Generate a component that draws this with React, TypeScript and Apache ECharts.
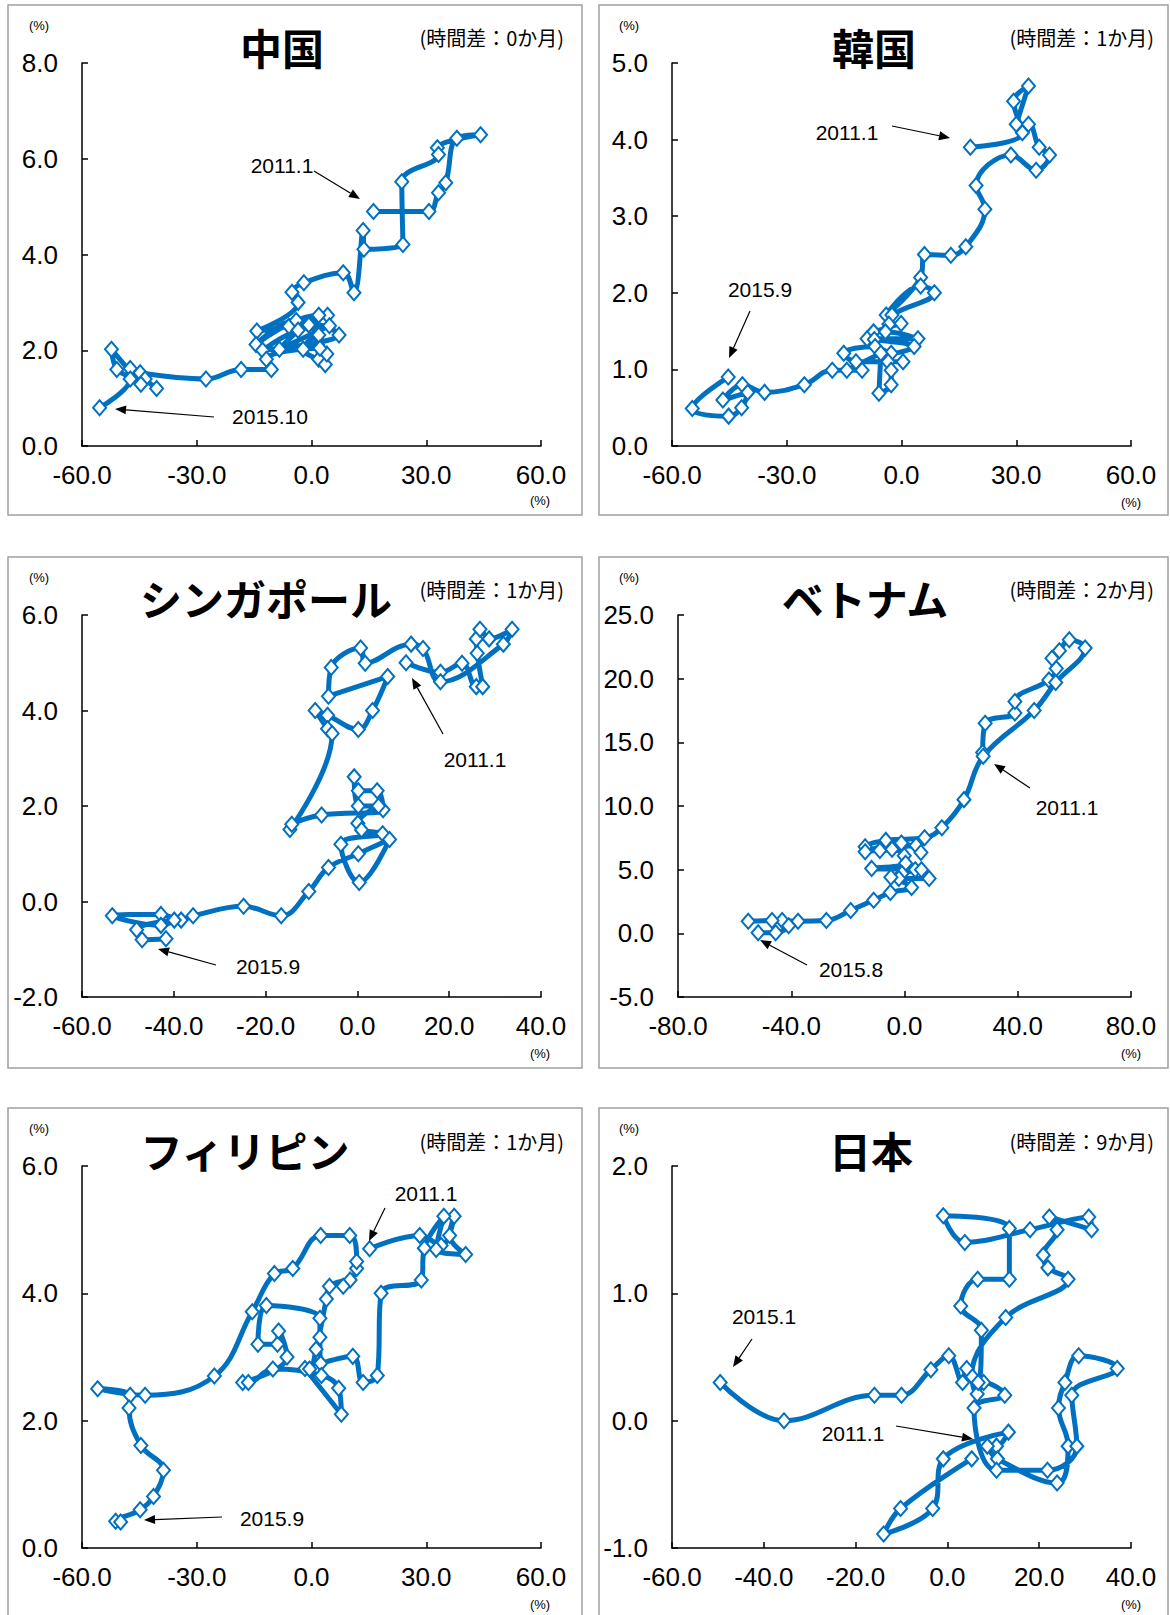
import React, { useEffect, useRef } from "react";
import * as echarts from "echarts";

// ---- data (x, y) in time order, from 2011.1 to the latest month ----
const chinaPath = [[16.2,4.9],[30.7,4.9],[33.2,5.29],[35.1,5.5],[38.0,6.43],[44.2,6.5],[32.9,6.23],[33.2,6.09],[23.6,5.52],[23.9,4.21],[13.7,4.11],[13.5,4.5],[11.1,3.2],[8.3,3.62],[-2.0,3.41],[-5.1,3.21],[-3.5,3.0],[-14.3,2.4],[-5.9,2.5],[4.2,2.73],[1.9,2.73],[-14.5,2.12],[-4.0,2.62],[7.2,2.32],[-12.8,2.0],[-3.5,2.42],[4.7,2.51],[-8.4,2.02],[-0.7,2.53],[1.9,1.81],[-2.2,2.02],[1.9,2.32],[3.6,1.7],[4.0,1.92],[2.2,2.04],[-11.8,1.81],[-10.5,1.6],[-18.4,1.6],[-27.6,1.4],[-44.8,1.53],[-43.5,1.4],[-40.5,1.2],[-47.4,1.62],[-44.6,1.29],[-52.3,2.02],[-50.9,1.6],[-47.4,1.4],[-55.4,0.8]];
const koreaPath = [[18.0,3.9],[31.6,4.09],[29.3,4.5],[33.2,4.7],[30.0,4.2],[33.2,4.2],[36.0,3.9],[38.7,3.8],[35.2,3.6],[28.6,3.8],[19.5,3.4],[21.8,3.09],[16.8,2.6],[12.9,2.49],[6.0,2.5],[5.0,2.2],[-4.0,1.71],[5.0,2.09],[8.6,2.0],[-2.5,1.71],[-3.3,1.59],[-0.1,1.6],[-7.3,1.49],[-4.2,1.49],[4.3,1.4],[-9.0,1.4],[-7.1,1.39],[3.3,1.3],[-2.7,1.21],[-6.9,1.3],[-15.1,1.21],[-11.9,1.1],[0.4,1.1],[-3.5,1.1],[-2.7,0.99],[-2.7,0.8],[-5.9,0.69],[-5.4,1.21],[-14.3,0.99],[-10.3,0.99],[-18.1,0.99],[-25.4,0.8],[-35.8,0.7],[-41.6,0.8],[-46.7,0.6],[-40.2,0.7],[-41.8,0.5],[-45.2,0.39],[-54.7,0.49],[-45.3,0.9]];
const singaporePath = [[10.6,5.0],[18.1,4.8],[22.8,4.99],[25.9,4.5],[27.3,4.5],[26.1,5.2],[25.9,5.5],[26.7,5.7],[28.7,5.5],[33.7,5.7],[31.8,5.39],[18.1,4.6],[14.3,5.3],[11.7,5.39],[1.7,4.99],[0.7,5.31],[-5.7,4.9],[-6.3,4.3],[6.6,4.71],[3.3,4.0],[0.2,3.6],[-6.5,3.9],[-9.2,4.0],[-6.5,3.62],[-5.5,3.52],[-14.7,1.51],[-14.3,1.62],[-7.8,1.81],[5.6,1.92],[4.3,2.32],[0.2,2.32],[-0.7,2.61],[0.2,2.0],[4.6,2.0],[0.1,1.64],[0.9,1.5],[5.5,1.42],[-3.6,1.2],[0.4,0.4],[7.0,1.3],[0.2,1.0],[-6.3,0.71],[-10.6,0.21],[-16.6,-0.3],[-24.8,-0.1],[-35.8,-0.3],[-38.4,-0.39],[-42.8,-0.27],[-53.4,-0.3],[-42.8,-0.5],[-39.9,-0.39],[-48.1,-0.59],[-46.9,-0.8],[-41.7,-0.78]];
const vietnamPath = [[27.6,14.2],[28.5,16.5],[39.0,17.3],[39.0,18.2],[51.0,19.9],[53.6,20.8],[52.1,21.6],[54.7,22.2],[58.2,23.05],[63.8,22.4],[53.4,19.7],[45.8,17.5],[27.8,13.9],[21.0,10.5],[13.2,8.3],[7.1,7.5],[-6.6,7.3],[-13.9,6.8],[-8.7,6.5],[4.1,6.9],[5.8,6.35],[-1.1,7.1],[-13.9,6.4],[-4.4,6.6],[-0.1,6.1],[0.4,5.5],[-11.6,5.1],[3.8,5.0],[-0.9,4.7],[6.0,5.0],[8.7,4.3],[-2.0,4.3],[-4.8,4.4],[2.5,3.6],[-5.0,3.2],[-10.9,2.6],[-19.0,1.8],[-27.6,1.0],[-37.6,0.95],[-43.2,1.0],[-55.2,0.95],[-46.8,1.0],[-40.9,0.6],[-45.5,0.05],[-51.7,0.05]];
const philippinesPath = [[15.2,4.7],[28.3,4.91],[33.9,4.75],[37.3,5.21],[36.1,4.91],[40.3,4.61],[32.6,4.69],[34.6,5.21],[29.5,4.71],[28.7,4.21],[18.2,4.0],[17.2,2.71],[13.5,2.6],[10.8,3.01],[2.4,2.9],[2.2,3.31],[2.2,3.61],[-11.8,3.81],[-14.0,3.2],[-8.9,3.2],[-8.6,3.41],[-6.4,3.0],[-18.0,2.6],[-16.5,2.6],[-10.1,2.81],[2.6,2.71],[7.1,2.51],[7.8,2.1],[-1.7,2.82],[-0.5,2.81],[1.2,3.12],[3.9,3.91],[4.7,4.11],[10.1,4.21],[8.3,4.11],[11.8,4.39],[11.8,4.5],[10.0,4.91],[2.4,4.91],[-4.9,4.39],[-9.7,4.31],[-15.5,3.71],[-25.4,2.7],[-43.5,2.4],[-55.9,2.5],[-47.4,2.4],[-47.7,2.2],[-44.6,1.61],[-38.7,1.22],[-41.3,0.81],[-44.8,0.6],[-51.2,0.42],[-49.9,0.41]];
const japanPath = [[5.3,-0.30],[-10.2,-0.69],[-13.9,-0.89],[-3.2,-0.69],[-0.9,-0.30],[13.3,-0.09],[10.7,-0.20],[8.7,-0.20],[10.9,-0.30],[23.9,-0.49],[26.3,-0.20],[24.2,0.10],[25.6,0.30],[28.6,0.51],[37.0,0.41],[27.1,0.20],[28.2,-0.20],[21.8,-0.39],[10.7,-0.39],[5.8,0.10],[12.5,0.20],[7.9,0.30],[6.5,0.21],[5.3,0.35],[12.7,0.81],[26.3,1.11],[21.9,1.20],[20.9,1.30],[23.9,1.50],[22.2,1.60],[31.4,1.50],[30.8,1.60],[18.0,1.50],[3.8,1.40],[-0.9,1.61],[13.5,1.51],[13.5,1.11],[6.6,1.11],[2.9,0.90],[7.4,0.71],[6.7,0.30],[4.2,0.41],[3.3,0.30],[0.3,0.51],[-3.6,0.40],[-10.0,0.20],[-15.9,0.20],[-35.6,0.0],[-49.5,0.30]];

// axis ranges [min, max, interval]
const chinaX = [-60, 60, 30], chinaY = [0, 8, 2];
const koreaX = [-60, 60, 30], koreaY = [0, 5, 1];
const singaporeX = [-60, 40, 20], singaporeY = [-2, 6, 2];
const vietnamX = [-80, 80, 40], vietnamY = [-5, 25, 5];
const philippinesX = [-60, 60, 30], philippinesY = [0, 6, 2];
const japanX = [-60, 40, 20], japanY = [-1, 2, 1];

const titles = ["中国", "韓国", "シンガポール", "ベトナム", "フィリピン", "日本"];
const lags = ["(時間差：0か月)", "(時間差：1か月)", "(時間差：1か月)", "(時間差：2か月)", "(時間差：1か月)", "(時間差：9か月)"];

const BLUE = "#0070C0";
const FONT = '"Liberation Sans", Arial, sans-serif';
const JP = '"Noto Sans CJK JP", sans-serif';

type Note = { text: string; tx: number; ty: number; a: number[] };
type Panel = {
  data: number[][]; xr: number[]; yr: number[];
  grid: { left: number; top: number; width: number; height: number };
  box: number[]; titleX: number; titleY: number; lagRight: number; lagY: number;
  unitTL: number[]; unitBR: number[]; notes: Note[];
};

const panels: Panel[] = [
  { data: chinaPath, xr: chinaX, yr: chinaY, grid: { left: 82, top: 63, width: 459, height: 383 },
    box: [8, 5, 574, 510], titleX: 282, titleY: 46, lagRight: 564, lagY: 37, unitTL: [39, 25], unitBR: [540, 500],
    notes: [
      { text: "2011.1", tx: 282, ty: 165, a: [314, 171, 360, 199] },
      { text: "2015.10", tx: 270, ty: 416, a: [214, 417, 115, 409] },
    ] },
  { data: koreaPath, xr: koreaX, yr: koreaY, grid: { left: 672, top: 63, width: 459, height: 383 },
    box: [599, 5, 569, 510], titleX: 874, titleY: 46, lagRight: 1154, lagY: 37, unitTL: [629, 25], unitBR: [1131, 502],
    notes: [
      { text: "2011.1", tx: 847, ty: 132, a: [892, 126, 950, 138] },
      { text: "2015.9", tx: 760, ty: 289, a: [750, 311, 729, 358] },
    ] },
  { data: singaporePath, xr: singaporeX, yr: singaporeY, grid: { left: 82, top: 615, width: 459, height: 382 },
    box: [8, 557, 574, 511], titleX: 266, titleY: 597, lagRight: 564, lagY: 589, unitTL: [39, 577], unitBR: [540, 1053],
    notes: [
      { text: "2011.1", tx: 475, ty: 759, a: [443, 734, 412, 678] },
      { text: "2015.9", tx: 268, ty: 966, a: [216, 965, 158, 949] },
    ] },
  { data: vietnamPath, xr: vietnamX, yr: vietnamY, grid: { left: 678, top: 615, width: 453, height: 382 },
    box: [599, 557, 569, 511], titleX: 865, titleY: 597, lagRight: 1154, lagY: 589, unitTL: [629, 577], unitBR: [1131, 1053],
    notes: [
      { text: "2011.1", tx: 1067, ty: 807, a: [1030, 788, 994, 764] },
      { text: "2015.8", tx: 851, ty: 969, a: [807, 965, 760, 940] },
    ] },
  { data: philippinesPath, xr: philippinesX, yr: philippinesY, grid: { left: 82, top: 1166, width: 459, height: 382 },
    box: [8, 1108, 574, 530], titleX: 245, titleY: 1149, lagRight: 564, lagY: 1141, unitTL: [39, 1128], unitBR: [540, 1604],
    notes: [
      { text: "2011.1", tx: 426, ty: 1193, a: [385, 1208, 369, 1241] },
      { text: "2015.9", tx: 272, ty: 1518, a: [222, 1517, 144, 1520] },
    ] },
  { data: japanPath, xr: japanX, yr: japanY, grid: { left: 672, top: 1166, width: 459, height: 382 },
    box: [599, 1108, 569, 530], titleX: 871, titleY: 1149, lagRight: 1154, lagY: 1141, unitTL: [629, 1128], unitBR: [1131, 1604],
    notes: [
      { text: "2015.1", tx: 764, ty: 1316, a: [752, 1339, 733, 1367] },
      { text: "2011.1", tx: 853, ty: 1433, a: [896, 1426, 973, 1439] },
    ] },
];

function arrow(a: number[]) {
  const [x1, y1, x2, y2] = a;
  const dx = x2 - x1, dy = y2 - y1;
  const L = Math.hypot(dx, dy);
  const ux = dx / L, uy = dy / L;
  const hl = 11, hw = 4.5;
  const bx = x2 - ux * hl, by = y2 - uy * hl;
  return [
    { type: "line", shape: { x1, y1, x2: bx, y2: by }, style: { stroke: "#000", lineWidth: 1.2 }, z: 20 },
    { type: "polygon", shape: { points: [[x2, y2], [bx - uy * hw, by + ux * hw], [bx + uy * hw, by - ux * hw]] }, style: { fill: "#000" }, z: 20 },
  ];
}

function txt(x: number, y: number, text: string, size: number, align: string, family: string, weight = "normal") {
  return {
    type: "text", x, y, z: 20,
    style: { text, fill: "#000", fontSize: size, fontFamily: family, fontWeight: weight, align, verticalAlign: "middle",
      textAlign: align, textVerticalAlign: "middle" },
  };
}

export default function App() {
  const ref = useRef<HTMLDivElement>(null);
  useEffect(() => {
    document.body.style.margin = "0";
    if (!ref.current) return;
    const chart = echarts.init(ref.current, undefined, { renderer: "svg" });
    const axisCommon = {
      type: "value",
      splitLine: { show: false },
      axisLine: { show: true, onZero: false, lineStyle: { color: "#000", width: 1.5 } },
      axisTick: { show: true, inside: true, length: 6, lineStyle: { color: "#000", width: 1.5 } },
      axisLabel: { color: "#000", fontSize: 26, fontFamily: FONT, formatter: (v: number) => v.toFixed(1) },
    };
    const graphic: any[] = [];
    panels.forEach((p, i) => {
      graphic.push({ type: "rect", shape: { x: p.box[0], y: p.box[1], width: p.box[2], height: p.box[3] },
        style: { fill: "none", stroke: "#a0a0a0", lineWidth: 1.5 }, z: 1 });
      graphic.push(txt(p.titleX, p.titleY, titles[i], 42, "center", JP, "bold"));
      graphic.push(txt(p.lagRight, p.lagY, lags[i], 20, "right", JP));
      graphic.push(txt(p.unitTL[0], p.unitTL[1], "(%)", 13, "center", FONT));
      graphic.push(txt(p.unitBR[0], p.unitBR[1], "(%)", 13, "center", FONT));
      p.notes.forEach((n) => {
        graphic.push(txt(n.tx, n.ty, n.text, 21, "center", FONT));
        graphic.push(...arrow(n.a));
      });
    });
    chart.setOption({
      animation: false,
      backgroundColor: "#fff",
      grid: panels.map((p) => ({ ...p.grid, containLabel: false })),
      xAxis: panels.map((p, i) => ({
        ...axisCommon, gridIndex: i, min: p.xr[0], max: p.xr[1], interval: p.xr[2],
        axisLabel: { ...axisCommon.axisLabel, margin: 16 },
      })),
      yAxis: panels.map((p, i) => ({
        ...axisCommon, gridIndex: i, min: p.yr[0], max: p.yr[1], interval: p.yr[2],
        axisLabel: { ...axisCommon.axisLabel, margin: 24 },
      })),
      series: panels.map((p, i) => ({
        type: "line", xAxisIndex: i, yAxisIndex: i, data: p.data,
        smooth: 0.4, symbol: "diamond", symbolSize: [13, 15], showSymbol: true,
        lineStyle: { color: BLUE, width: 5 },
        itemStyle: { color: "#fff", borderColor: BLUE, borderWidth: 2 },
        z: 5,
      })),
      graphic,
    });
    return () => chart.dispose();
  }, []);
  return <div ref={ref} style={{ width: 1170, height: 1615 }} />;
}
